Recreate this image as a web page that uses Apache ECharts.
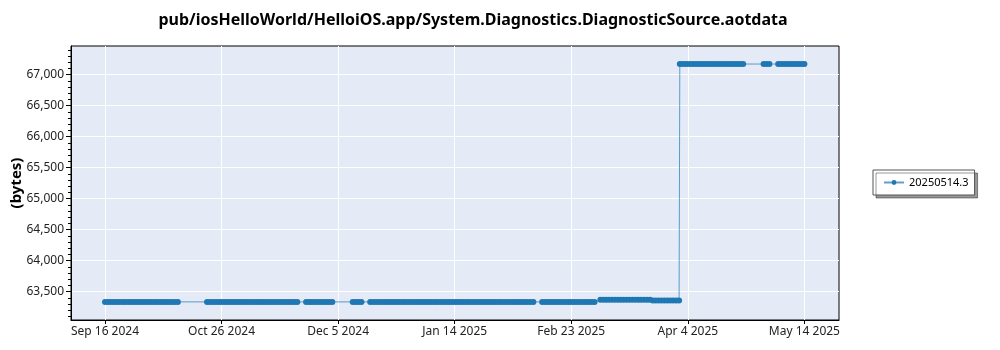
<!DOCTYPE html>
<html>
<head>
<meta charset="utf-8">
<script src="https://cdn.jsdelivr.net/npm/echarts@6/dist/echarts.min.js"></script>
<style>
html,body{margin:0;padding:0;background:#fff;}
#chart{width:1000px;height:350px;}
</style>
</head>
<body>
<div id="chart"></div>
<script>
const titleText = 'pub/iosHelloWorld/HelloiOS.app/System.Diagnostics.DiagnosticSource.aotdata';
const seriesName = '20250514.3';
const yAxisName = '(bytes)';

const dates = [
'2024-09-16','2024-09-17','2024-09-18','2024-09-19','2024-09-20','2024-09-21','2024-09-22','2024-09-23','2024-09-24','2024-09-25','2024-09-26','2024-09-27','2024-09-28','2024-09-29','2024-09-30',
'2024-10-01','2024-10-02','2024-10-03','2024-10-04','2024-10-05','2024-10-06','2024-10-07','2024-10-08','2024-10-09','2024-10-10','2024-10-11',
'2024-10-21','2024-10-22','2024-10-23','2024-10-24','2024-10-25','2024-10-26','2024-10-27','2024-10-28','2024-10-29','2024-10-30','2024-10-31',
'2024-11-01','2024-11-02','2024-11-03','2024-11-04','2024-11-05','2024-11-06','2024-11-07','2024-11-08','2024-11-09','2024-11-10','2024-11-11','2024-11-12','2024-11-13','2024-11-14','2024-11-15','2024-11-16','2024-11-17','2024-11-18','2024-11-19','2024-11-20','2024-11-21',
'2024-11-24','2024-11-25','2024-11-26','2024-11-27','2024-11-28','2024-11-29','2024-11-30',
'2024-12-01','2024-12-02','2024-12-03',
'2024-12-10','2024-12-11','2024-12-12','2024-12-13',
'2024-12-16','2024-12-17','2024-12-18','2024-12-19','2024-12-20','2024-12-21','2024-12-22','2024-12-23','2024-12-24','2024-12-25','2024-12-26','2024-12-27','2024-12-28','2024-12-29','2024-12-30','2024-12-31',
'2025-01-01','2025-01-02','2025-01-03','2025-01-04','2025-01-05','2025-01-06','2025-01-07','2025-01-08','2025-01-09','2025-01-10','2025-01-11','2025-01-12','2025-01-13','2025-01-14','2025-01-15','2025-01-16',
'2025-01-17','2025-01-18','2025-01-19','2025-01-20','2025-01-21','2025-01-22','2025-01-23','2025-01-24','2025-01-25','2025-01-26','2025-01-27','2025-01-28','2025-01-29','2025-01-30','2025-01-31',
'2025-02-01','2025-02-02','2025-02-03','2025-02-04','2025-02-05','2025-02-06','2025-02-07','2025-02-08','2025-02-09','2025-02-10',
'2025-02-13','2025-02-14','2025-02-15','2025-02-16','2025-02-17','2025-02-18','2025-02-19','2025-02-20','2025-02-21','2025-02-22','2025-02-23','2025-02-24','2025-02-25','2025-02-26','2025-02-27','2025-02-28',
'2025-03-01','2025-03-02','2025-03-03',
'2025-03-05','2025-03-06','2025-03-07','2025-03-08','2025-03-09','2025-03-10','2025-03-11','2025-03-12','2025-03-13','2025-03-14','2025-03-15','2025-03-16','2025-03-17','2025-03-18','2025-03-19','2025-03-20','2025-03-21','2025-03-22',
'2025-03-23','2025-03-24','2025-03-25','2025-03-26','2025-03-27','2025-03-28','2025-03-29','2025-03-30','2025-03-31','2025-04-01T00:00:00',
'2025-04-01T06:00:00','2025-04-02','2025-04-03','2025-04-04','2025-04-05','2025-04-06','2025-04-07','2025-04-08','2025-04-09','2025-04-10','2025-04-11','2025-04-12','2025-04-13','2025-04-14','2025-04-15','2025-04-16','2025-04-17','2025-04-18','2025-04-19','2025-04-20','2025-04-21','2025-04-22','2025-04-23',
'2025-04-30','2025-05-01','2025-05-02',
'2025-05-05','2025-05-06','2025-05-07','2025-05-08','2025-05-09','2025-05-10','2025-05-11','2025-05-12','2025-05-13','2025-05-14'
];

const sizes = [
63336,63336,63336,63336,63336,63336,63336,63336,63336,63336,63336,63336,63336,63336,63336,
63336,63336,63336,63336,63336,63336,63336,63336,63336,63336,63336,
63336,63336,63336,63336,63336,63336,63336,63336,63336,63336,63336,
63336,63336,63336,63336,63336,63336,63336,63336,63336,63336,63336,63336,63336,63336,63336,63336,63336,63336,63336,63336,63336,
63336,63336,63336,63336,63336,63336,63336,
63336,63336,63336,
63336,63336,63336,63336,
63336,63336,63336,63336,63336,63336,63336,63336,63336,63336,63336,63336,63336,63336,63336,63336,
63336,63336,63336,63336,63336,63336,63336,63336,63336,63336,63336,63336,63336,63336,63336,63336,
63336,63336,63336,63336,63336,63336,63336,63336,63336,63336,63336,63336,63336,63336,63336,
63336,63336,63336,63336,63336,63336,63336,63336,63336,63336,
63336,63336,63336,63336,63336,63336,63336,63336,63336,63336,63336,63336,63336,63336,63336,63336,
63336,63336,63336,
63370,63370,63370,63370,63370,63370,63370,63370,63370,63370,63370,63370,63370,63370,63370,63370,63370,63370,
63358,63358,63358,63358,63358,63358,63358,63358,63358,63358,
67172,67172,67172,67172,67172,67172,67172,67172,67172,67172,67172,67172,67172,67172,67172,67172,67172,67172,67172,67172,67172,67172,67172,
67172,67172,67172,
67172,67172,67172,67172,67172,67172,67172,67172,67172,67172
];

const xTickDates = ['2024-09-16','2024-10-26','2024-12-05','2025-01-14','2025-02-23','2025-04-04','2025-05-14'];
const yTickValues = [63500,64000,64500,65000,65500,66000,66500,67000];
const xRange = ['2024-09-04T08:00:00','2025-05-25T21:00:00'];
const yRange = [63044,67463];

const monthNames = ['Jan','Feb','Mar','Apr','May','Jun','Jul','Aug','Sep','Oct','Nov','Dec'];
function toTime(s) { return +new Date(s.length === 10 ? s + 'T00:00:00' : s); }
const yMinorTicks = [];
for (let v = Math.ceil(yRange[0] / 100) * 100; v <= yRange[1]; v += 100) yMinorTicks.push(v);
const xTickTimes = xTickDates.map(toTime);

const font = '"Noto Sans", "Open Sans", sans-serif';
const chart = echarts.init(document.getElementById('chart'), null, {renderer: 'canvas'});
chart.setOption({
  animation: false,
  backgroundColor: '#ffffff',
  title: {
    text: titleText,
    left: 468,
    textAlign: 'center',
    top: 7,
    textStyle: {fontFamily: font, fontSize: 16, fontWeight: 'bold', color: '#000'}
  },
  legend: {
    orient: 'vertical',
    left: 873,
    top: 170,
    padding: [7, 6, 7, 10],
    itemWidth: 20,
    itemHeight: 6,
    itemGap: 0,
    backgroundColor: '#fff',
    borderColor: '#555',
    borderWidth: 1,
    shadowColor: 'rgba(0,0,0,0.4)',
    shadowBlur: 0,
    shadowOffsetX: 3,
    shadowOffsetY: 3,
    textStyle: {fontFamily: font, fontSize: 11, color: '#000'},
    data: [seriesName]
  },
  grid: {
    left: 71, right: 161, top: 46, bottom: 30,
    show: true,
    backgroundColor: '#e5ebf6',
    borderColor: '#000',
    borderWidth: 1,
    containLabel: false,
    outerBoundsMode: 'none'
  },
  xAxis: {
    type: 'value',
    min: toTime(xRange[0]),
    max: toTime(xRange[1]),
    axisLine: {show: true, onZero: false, lineStyle: {color: '#000', width: 1}},
    axisTick: {show: true, length: 4, customValues: xTickTimes, lineStyle: {color: '#000'}},
    axisLabel: {
      customValues: xTickTimes,
      fontFamily: font, fontSize: 12, color: '#222', margin: 6,
      hideOverlap: false,
      formatter: function (v) {
        const d = new Date(v);
        return monthNames[d.getMonth()] + ' ' + d.getDate() + ' ' + d.getFullYear();
      }
    },
    splitLine: {show: true, lineStyle: {color: '#ffffff', width: 1}}
  },
  yAxis: [{
    type: 'value',
    min: yRange[0],
    max: yRange[1],
    name: yAxisName,
    nameLocation: 'middle',
    nameGap: 47,
    nameMoveOverlap: false,
    nameTextStyle: {fontFamily: font, fontSize: 15, fontWeight: 'bold', color: '#000'},
    axisLine: {show: true, onZero: false, lineStyle: {color: '#000', width: 1}},
    axisTick: {show: true, length: 5, customValues: yTickValues, lineStyle: {color: '#000'}},
    axisLabel: {
      customValues: yTickValues,
      fontFamily: font, fontSize: 12, color: '#222', margin: 7,
      formatter: function (v) { return Number(v).toLocaleString('en-US'); }
    },
    splitLine: {show: true, lineStyle: {color: '#ffffff', width: 1}}
  }, {
    type: 'value',
    min: yRange[0],
    max: yRange[1],
    position: 'left',
    axisLine: {show: false},
    axisTick: {show: true, length: 3, customValues: yMinorTicks, lineStyle: {color: '#000'}},
    axisLabel: {show: false},
    splitLine: {show: false}
  }],
  series: [{
    name: seriesName,
    type: 'line',
    yAxisIndex: 0,
    data: dates.map(function (d, i) { return [toTime(d), sizes[i]]; }),
    symbol: 'circle',
    symbolSize: 6,
    showSymbol: true,
    showAllSymbol: true,
    itemStyle: {color: '#1f77b4'},
    lineStyle: {color: '#1f77b4', width: 1, opacity: 0.7}
  }]
});
</script>
</body>
</html>
